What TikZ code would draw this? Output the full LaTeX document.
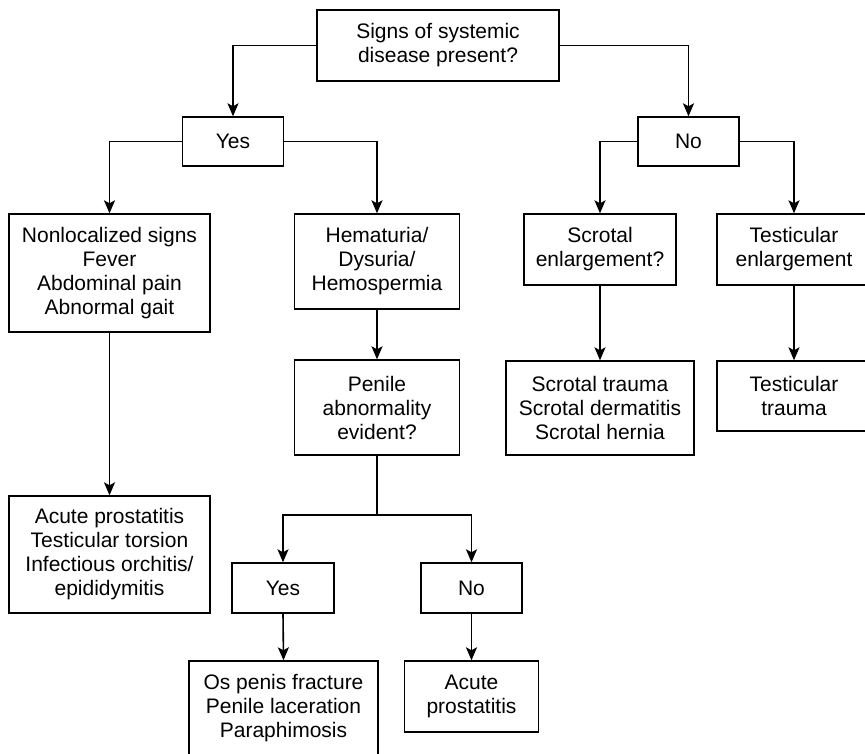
\documentclass[tikz,border=0pt]{standalone}
\usepackage{fontspec}
\setmainfont{Liberation Sans}
\usetikzlibrary{arrows.meta}

\tikzset{
  box/.style={draw,line width=1.4pt,align=center,inner sep=0pt,font=\fontsize{21}{24}\selectfont},
  link/.style={line width=1.6pt,-{Stealth[length=13pt,width=11pt,inset=3pt]}}
}

\begin{document}
\begin{tikzpicture}[x=1pt,y=-1pt]
\useasboundingbox (0,0) rectangle (865,753);

    % question and first answers
    \node[box,minimum width=242,minimum height=71] (Top) at (438,45.5) {Signs of systemic\\disease present?};
    \node[box,minimum width=101,minimum height=49] (YesA) at (233,141.5) {Yes};
    \node[box,minimum width=101,minimum height=49] (NoA) at (688.5,141.5) {No};

    % second row
    \node[box,minimum width=201,minimum height=118] (Nonloc) at (109.5,273) {Nonlocalized signs\\Fever\\Abdominal pain\\Abnormal gait};
    \node[box,minimum width=165,minimum height=95] (Hema) at (377,261.5) {Hematuria/\\Dysuria/\\Hemospermia};
    \node[box,minimum width=152,minimum height=71] (Scrotal) at (600,249.5) {Scrotal\\enlargement?};
    \node[box,minimum width=154,minimum height=71] (Testic) at (794,249.5) {Testicular\\enlargement};

    % third row
    \node[box,minimum width=165,minimum height=95] (Penile) at (377,407.5) {Penile\\abnormality\\evident?};
    \node[box,minimum width=188,minimum height=94] (STrauma) at (600,408) {Scrotal trauma\\Scrotal dermatitis\\Scrotal hernia};
    \node[box,minimum width=154,minimum height=70] (TTrauma) at (794,396) {Testicular\\trauma};

    % lower part
    \node[box,minimum width=201,minimum height=117] (Acute1) at (109.5,554.5) {Acute prostatitis\\Testicular torsion\\Infectious orchitis/\\epididymitis};
    \node[box,minimum width=102,minimum height=50] (YesB) at (283,588) {Yes};
    \node[box,minimum width=101,minimum height=50] (NoB) at (471.5,588) {No};
    \node[box,minimum width=189,minimum height=95] (OsPenis) at (283.5,708.5) {Os penis fracture\\Penile laceration\\Paraphimosis};
    \node[box,minimum width=134,minimum height=71] (Acute2) at (471.5,696.5) {Acute\\prostatitis};

    \draw[link] (Top.west) -| (YesA.north);
    \draw[link] (Top.east) -| (NoA.north);
    \draw[link] (YesA.west) -| (Nonloc.north);
    \draw[link] (YesA.east) -| (Hema.north);
    \draw[link] (NoA.west) -| (Scrotal.north);
    \draw[link] (NoA.east) -| (Testic.north);

    \foreach \a/\b in {Nonloc/Acute1, Hema/Penile, Scrotal/STrauma, Testic/TTrauma, YesB/OsPenis, NoB/Acute2}
        \draw[link] (\a.south) -- (\b.north);

    \draw[line width=1.6pt] (Penile.south) -- ++(0,59) coordinate (Fork);
    \draw[link] (Fork) -| (YesB.north);
    \draw[link] (Fork) -| (NoB.north);
\end{tikzpicture}
\end{document}
